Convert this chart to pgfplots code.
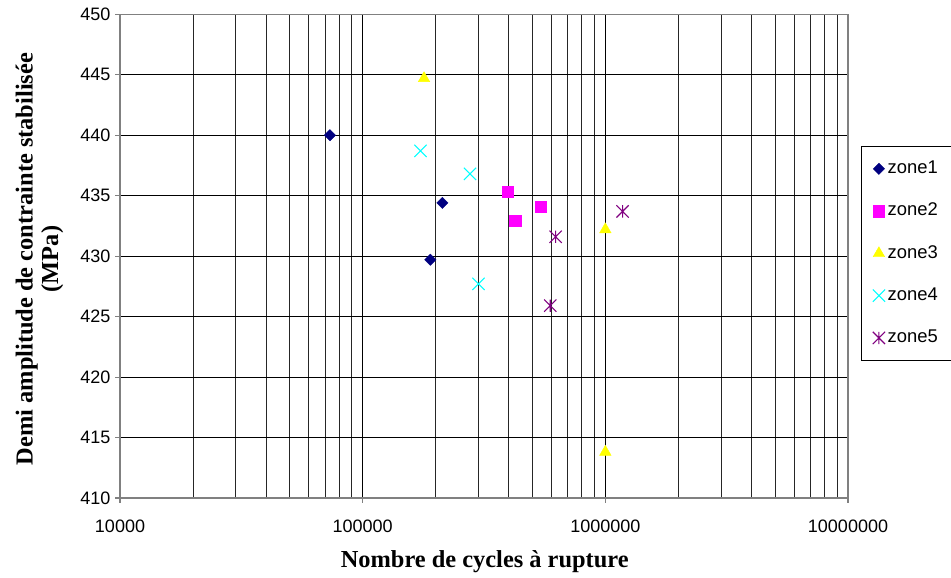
\documentclass[border=0pt]{standalone}
\usepackage{pgfplots}
\pgfplotsset{compat=1.18}
\usepackage{fontspec}
\setmainfont{Liberation Serif}
\newfontfamily\arial{Liberation Sans}
\definecolor{navyz}{HTML}{000080}
\definecolor{magz}{HTML}{FF00FF}
\definecolor{yelz}{HTML}{FFFF00}
\definecolor{cyaz}{HTML}{00FFFF}
\definecolor{purz}{HTML}{800080}
\pgfdeclareplotmark{xstar}{%
  \pgfpathmoveto{\pgfqpoint{-\pgfplotmarksize}{-\pgfplotmarksize}}%
  \pgfpathlineto{\pgfqpoint{\pgfplotmarksize}{\pgfplotmarksize}}%
  \pgfpathmoveto{\pgfqpoint{-\pgfplotmarksize}{\pgfplotmarksize}}%
  \pgfpathlineto{\pgfqpoint{\pgfplotmarksize}{-\pgfplotmarksize}}%
  \pgfpathmoveto{\pgfqpoint{0pt}{-\pgfplotmarksize}}%
  \pgfpathlineto{\pgfqpoint{0pt}{\pgfplotmarksize}}%
  \pgfusepathqstroke}
\begin{document}
\begin{tikzpicture}
\useasboundingbox (0pt,0pt) rectangle (713.25pt,433.5pt);
\begin{axis}[
  at={(90pt,60pt)}, anchor=south west,
  scale only axis, width=546pt, height=362.8pt,
  xmode=log, xmin=1e4, xmax=1e7, ymin=410, ymax=450,
  xtick={1e4,1e5,1e6,1e7},
  xticklabels={10000,100000,1000000,10000000},
  ytick={410,415,420,425,430,435,440,445,450},
  /pgf/number format/assume math mode=true,
  ticklabel style={font=\arial\fontsize{13.5}{16}\selectfont},
  xticklabel style={yshift=-9.5pt},
  xmajorgrids, xminorgrids, ymajorgrids,
  major grid style={black, line width=0.55pt},
  minor grid style={black!85, line width=0.55pt},
  axis line style={gray, line width=1pt},
  tick pos=left, tick align=outside,
  major tick length=3.75pt, minor tick length=0pt,
  tick style={gray, line width=0.8pt},
  xlabel={Nombre de cycles à rupture},
  ylabel={Demi amplitude de contrainte stabilisée\\(MPa)},
  label style={font=\bfseries\fontsize{18.3}{19}\selectfont},
  xlabel style={at={(axis description cs:0.501,-0.1427)}, anchor=base},
  ylabel style={at={(axis description cs:-0.1106,0.494)}, anchor=center, align=center},
  legend style={at={(axis description cs:1.0179,0.7277)}, anchor=north west,
    draw=black, line width=0.6pt, font=\arial\fontsize{13.8}{16}\selectfont,
    inner ysep=1pt, inner xsep=8.5pt, row sep=0pt,
    nodes={inner ysep=0pt, text height=19.35pt, text depth=12.35pt}},
  legend cell align=left,
]
\addplot[only marks, mark=square*, mark size=3.0pt, mark options={rotate=45, fill=navyz, draw=navyz, line width=0.3pt}]
  coordinates {(73300,440.0) (213000,434.4) (190000,429.7)};
\addlegendentry{zone1}
\addplot[only marks, mark=square*, mark size=4.2pt, mark options={fill=magz, draw=magz, line width=0.3pt}]
  coordinates {(397000,435.3) (425000,432.9) (543000,434.1)};
\addlegendentry{zone2}
\addplot[only marks, mark=triangle*, mark size=5pt, mark options={fill=yelz, draw=yelz, line width=0.3pt}]
  coordinates {(179000,444.7) (1000000,432.2) (1000000,413.8)};
\addlegendentry{zone3}
\addplot[only marks, mark=x, mark size=6.5pt, mark options={draw=cyaz, line width=0.8pt}]
  coordinates {(173000,438.7) (277000,436.8) (300000,427.7)};
\addlegendentry{zone4}
\addplot[only marks, mark=xstar, mark size=4.6pt, mark options={draw=purz, line width=0.8pt}]
  coordinates {(624000,431.6) (593000,425.9) (1178000,433.7)};
\addlegendentry{zone5}
\end{axis}
\end{tikzpicture}
\end{document}
